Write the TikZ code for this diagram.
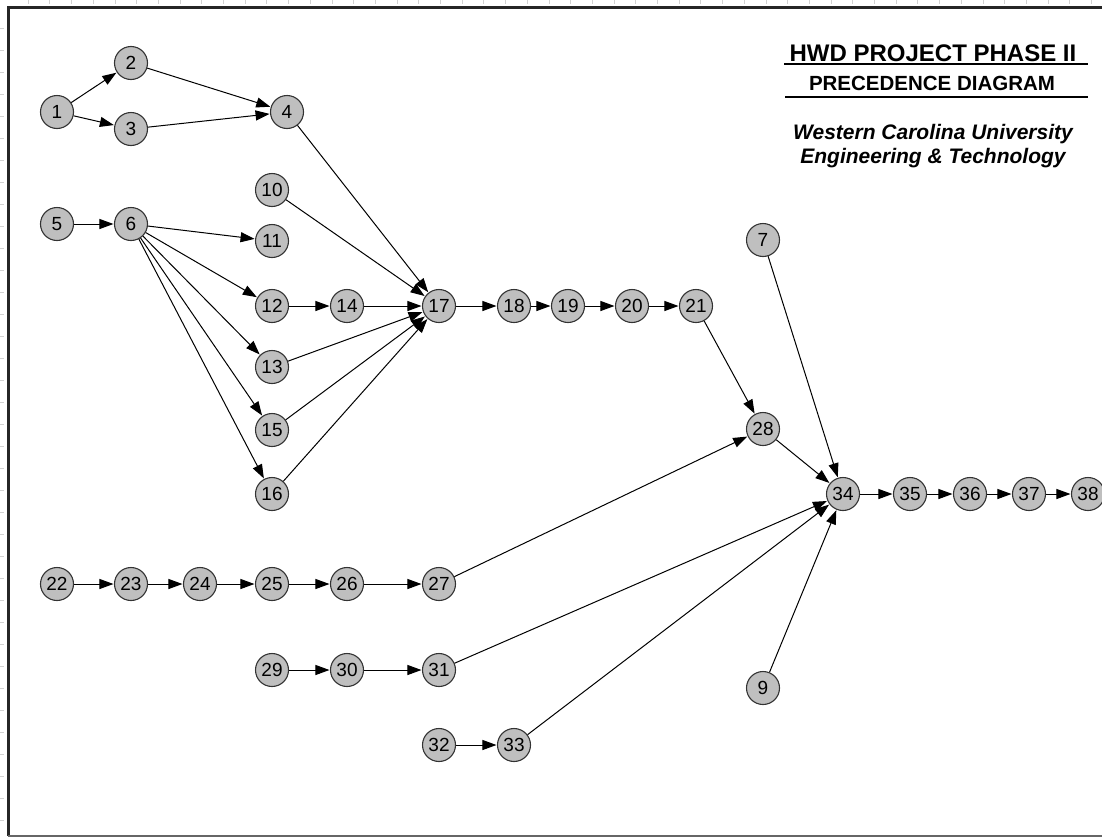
\documentclass[tikz,border=0pt]{standalone}
\usepackage{fontspec}
\setmainfont{Liberation Sans}
\usetikzlibrary{arrows.meta}
\newcommand{\ndfont}{\fontsize{19}{19}\selectfont}
\begin{document}
\begin{tikzpicture}[x=1pt,y=-1pt,
  nd/.style={circle,draw=black!80,line width=1.1pt,fill=black!25,minimum size=33pt,inner sep=0pt},
  ar/.style={-{Triangle[length=14pt,width=10pt]},line width=1pt,shorten >=0.5pt},
  tick/.style={black!18,line width=0.5pt}]
\useasboundingbox (0,0) rectangle (1102,838);
\fill[white] (0,0) rectangle (1102,838);
% ticks
\foreach \i in {0,...,50} {\draw[tick] ({28+21.7*\i},0) -- ({28+21.7*\i},4);}
\foreach \i in {0,...,37} {\draw[tick] (0,{28+22*\i}) -- (4,{28+22*\i});}
% frame
\draw[line width=3pt,black!85] (1102,7) -- (8,7) -- (8,836);
\draw[line width=1.2pt,black!60] (8,836) -- (1102,836);
% title
\node (t1) at (933,53) {\fontsize{24}{24}\selectfont\bfseries HWD PROJECT PHASE II};
\coordinate (u1a) at (784,64); \coordinate (u1b) at (1088,64);
\draw[line width=1.3pt] (u1a) -- (u1b);
\node (t2) at (932,83) {\fontsize{20.5}{20.5}\selectfont\bfseries PRECEDENCE DIAGRAM};
\coordinate (u2a) at (785,97); \coordinate (u2b) at (1088,97);
\draw[line width=1.3pt] (u2a) -- (u2b);
\node[align=center,font=\fontsize{21}{23.5}\selectfont\bfseries\itshape] (t3) at (933,146) {Western Carolina University\\Engineering \& Technology};
% nodes
\foreach \n/\x/\y in {1/57/112,2/131/63,3/131/129,4/287/112,5/57/224,6/131/224,
  10/272/190,11/272/241,12/272/306,14/347/306,13/272/367,15/272/430,16/272/494,
  17/439/306,18/514/306,19/568/306,20/632/306,21/696/306,7/763/240,28/763/429,
  34/843/494,35/910/494,36/970/494,37/1029/494,38/1088/494,
  22/57/584,23/131/584,24/200/584,25/272/584,26/347/584,27/439/584,
  29/272/670,30/347/670,31/439/670,9/763/688,32/439/745,33/514/745}
  {\node[nd] (n\n) at (\x,\y) {\ndfont\n};}
% edges
\foreach \a/\b in {1/2,1/3,2/4,3/4,5/6,6/11,6/12,6/13,6/15,6/16,12/14,
  4/17,10/17,14/17,13/17,15/17,16/17,17/18,18/19,19/20,20/21,21/28,7/34,28/34,
  34/35,35/36,36/37,37/38,22/23,23/24,24/25,25/26,26/27,27/28,29/30,30/31,31/34,
  9/34,32/33,33/34}
  {\draw[ar] (n\a) -- (n\b);}
\end{tikzpicture}
\end{document}
